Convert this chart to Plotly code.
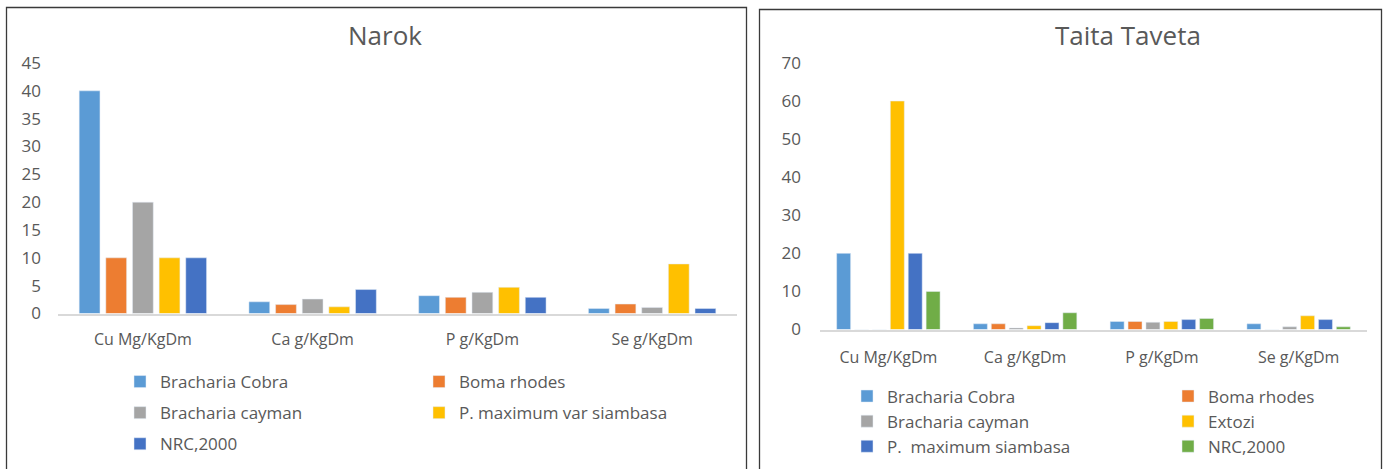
import plotly.graph_objects as go

# Nutrient categories on the x axis
categories = ["Cu Mg/KgDm", "Ca g/KgDm", "P g/KgDm", "Se g/KgDm"]

# Narok forage samples
narok_names = ["Bracharia Cobra", "Boma rhodes", "Bracharia cayman",
               "P. maximum var siambasa", "NRC,2000"]
narok_cobra = [40, 2.1, 3.2, 0.9]
narok_boma = [10, 1.6, 2.9, 1.7]
narok_cayman = [20, 2.6, 3.8, 1.1]
narok_pmax = [10, 1.2, 4.7, 8.9]
narok_nrc = [10, 4.3, 2.9, 0.9]

# Taita Taveta forage samples
taita_names = ["Bracharia Cobra", "Boma rhodes", "Bracharia cayman",
               "Extozi", "P.  maximum siambasa", "NRC,2000"]
taita_cobra = [20, 1.5, 2.1, 1.5]
taita_boma = [0, 1.5, 2.1, 0]
taita_cayman = [0, 0.4, 1.9, 0.7]
taita_extozi = [60, 1.0, 2.1, 3.6]
taita_pmax = [20, 1.8, 2.6, 2.6]
taita_nrc = [10, 4.4, 2.9, 0.7]

narok_ticks = [0, 5, 10, 15, 20, 25, 30, 35, 40, 45]
taita_ticks = [0, 10, 20, 30, 40, 50, 60, 70]

W, H = 1388, 469
FONT = "Open Sans"
TXT = "#595959"
COLORS = ["#5B9BD5", "#ED7D31", "#A5A5A5", "#FFC000", "#4472C4", "#70AD47"]


def px(x):
    return x / W


def py(y):
    return 1 - y / H


fig = go.Figure()

narok_vals = [narok_cobra, narok_boma, narok_cayman, narok_pmax, narok_nrc]
narok_leg = ["legend", "legend2", "legend", "legend2", "legend"]
for i, (name, vals) in enumerate(zip(narok_names, narok_vals)):
    fig.add_trace(go.Bar(x=categories, y=vals, name=name, marker_color=COLORS[i],
                         xaxis="x", yaxis="y", legend=narok_leg[i],
                         legendgroup="n%d" % i))

taita_vals = [taita_cobra, taita_boma, taita_cayman, taita_extozi, taita_pmax, taita_nrc]
taita_leg = ["legend3", "legend4", "legend3", "legend4", "legend3", "legend4"]
for i, (name, vals) in enumerate(zip(taita_names, taita_vals)):
    fig.add_trace(go.Bar(x=categories, y=vals, name=name, marker_color=COLORS[i],
                         xaxis="x2", yaxis="y2", legend=taita_leg[i],
                         legendgroup="t%d" % i))

axis_common = dict(showgrid=False, zeroline=False, fixedrange=True, automargin=False)
xcommon = dict(axis_common, showline=True, linecolor="#D9D9D9", linewidth=2,
               ticks="", tickfont=dict(family=FONT, size=16, color=TXT))
ycommon = dict(axis_common, showline=False, ticks="",
               tickfont=dict(family=FONT, size=17, color=TXT))

leg_common = dict(orientation="v", bgcolor="rgba(0,0,0,0)", borderwidth=0,
                  font=dict(family=FONT, size=17, color=TXT),
                  xanchor="left", yanchor="top", itemclick=False,
                  itemdoubleclick=False)

title_font = dict(family=FONT, size=26, color=TXT)

fig.update_layout(
    width=W, height=H,
    margin=dict(l=0, r=0, t=0, b=0, autoexpand=False),
    paper_bgcolor="white", plot_bgcolor="white",
    barmode="group", bargap=0.215, bargroupgap=0.22,
    showlegend=True,
    xaxis=dict(xcommon, domain=[px(58), px(737)], anchor="y", ticklabelstandoff=10),
    yaxis=dict(ycommon, domain=[py(313.5), py(63)], anchor="x",
               range=[0, 45], tickvals=narok_ticks, ticklabelstandoff=16),
    xaxis2=dict(xcommon, domain=[px(820), px(1367)], anchor="y2", ticklabelstandoff=12),
    yaxis2=dict(ycommon, domain=[py(329.5), py(63)], anchor="x2",
                range=[0, 70], tickvals=taita_ticks, ticklabelstandoff=18),
    legend=dict(leg_common, x=px(120), y=py(364), tracegroupgap=6),
    legend2=dict(leg_common, x=px(419), y=py(364), tracegroupgap=6),
    legend3=dict(leg_common, x=px(847), y=py(378.5), tracegroupgap=0),
    legend4=dict(leg_common, x=px(1168), y=py(378.5), tracegroupgap=0),
    annotations=[
        dict(text="Narok", x=px(385), y=py(35), xref="paper", yref="paper",
             xanchor="center", yanchor="middle", showarrow=False, font=title_font),
        dict(text="Taita Taveta", x=px(1128), y=py(35), xref="paper", yref="paper",
             xanchor="center", yanchor="middle", showarrow=False, font=title_font),
    ],
    shapes=[
        dict(type="rect", xref="paper", yref="paper", x0=px(6.5), x1=px(746.5),
             y0=-0.05, y1=py(7.5), line=dict(color="#3a3a3a", width=1.3)),
        dict(type="rect", xref="paper", yref="paper", x0=px(759.5), x1=px(1381.5),
             y0=-0.05, y1=py(9.5), line=dict(color="#3a3a3a", width=1.3)),
    ],
)

fig.write_html("out.html")
